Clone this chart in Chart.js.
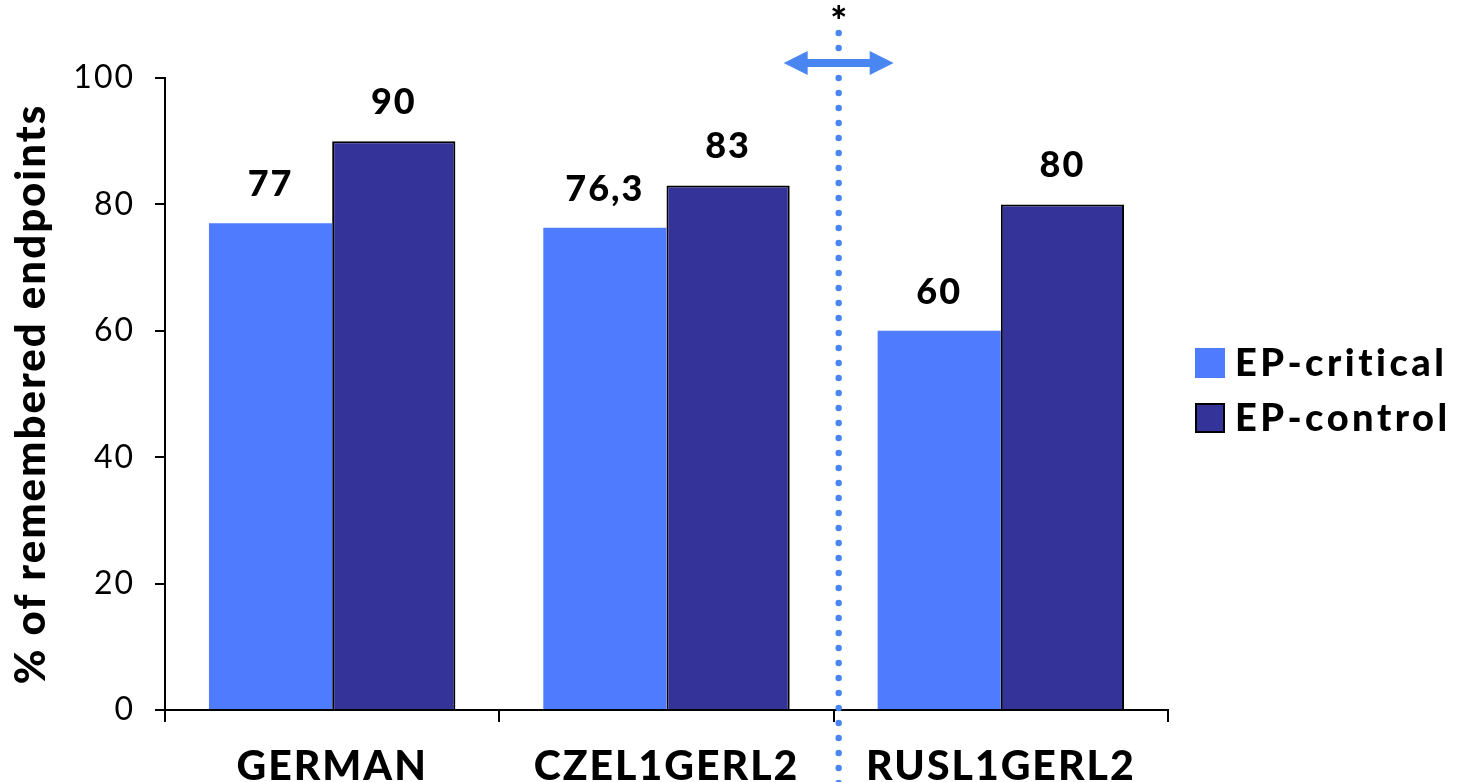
<!DOCTYPE html>
<html>
<head>
<meta charset="utf-8">
<script src="https://cdn.jsdelivr.net/npm/chart.js@4/dist/chart.umd.min.js"></script>
<style>
  html, body { margin: 0; padding: 0; background: #ffffff; }
  #wrap { width: 1465px; height: 782px; position: relative; }
</style>
</head>
<body>
<div id="wrap"><canvas id="c" width="1465" height="782"></canvas></div>
<script>
// Groups along the x axis
const categories = ['GERMAN', 'CZEL1GERL2', 'RUSL1GERL2'];
// Percentage of remembered endpoints per group
const criticalValues = [77, 76.3, 60];
const controlValues = [90, 83, 80];
const seriesNames = ['EP-critical', 'EP-control'];
const yTickValues = [0, 20, 40, 60, 80, 100];
const yTitle = '% of remembered endpoints';
const markerText = '*';

const FONT = 'Lato, "Open Sans", "DejaVu Sans", sans-serif';
const COL_CRIT = '#4f7bff';
const COL_CTRL = '#333399';
const COL_MARK = '#4a86f2';

// Wider tracking for all canvas text
const tracking = {
  id: 'tracking',
  beforeDraw(chart) { chart.ctx.letterSpacing = '2px'; }
};

// Value labels above each bar (decimal comma)
const valueLabels = {
  id: 'valueLabels',
  afterDatasetsDraw(chart) {
    const ctx = chart.ctx;
    ctx.save();
    ctx.font = '900 36px ' + FONT;
    ctx.letterSpacing = '2px';
    ctx.fillStyle = '#000';
    ctx.textAlign = 'center';
    ctx.textBaseline = 'alphabetic';
    chart.data.datasets.forEach((ds, di) => {
      chart.getDatasetMeta(di).data.forEach((bar, i) => {
        const txt = String(ds.data[i]).replace('.', ',');
        ctx.fillText(txt, bar.x, bar.y - 27);
      });
    });
    ctx.restore();
  }
};

// Dotted divider with double arrow between the second and third groups
const divider = {
  id: 'divider',
  afterDraw(chart) {
    const ctx = chart.ctx;
    const xs = chart.scales.x;
    const x = (xs.getPixelForValue(1) + xs.getPixelForValue(2)) / 2 + 5;
    ctx.save();
    ctx.fillStyle = COL_MARK;
    for (let y = 33; y < chart.height + 6; y += 15) {
      if (y > 52 && y < 74) continue;
      ctx.beginPath();
      ctx.arc(x, y, 3.2, 0, Math.PI * 2);
      ctx.fill();
    }
    const ay = 63, half = 55, head = 24, hh = 12, sh = 4;
    ctx.beginPath();
    ctx.moveTo(x - half, ay);
    ctx.lineTo(x - half + head, ay - hh);
    ctx.lineTo(x - half + head, ay - sh);
    ctx.lineTo(x + half - head, ay - sh);
    ctx.lineTo(x + half - head, ay - hh);
    ctx.lineTo(x + half, ay);
    ctx.lineTo(x + half - head, ay + hh);
    ctx.lineTo(x + half - head, ay + sh);
    ctx.lineTo(x - half + head, ay + sh);
    ctx.lineTo(x - half + head, ay + hh);
    ctx.closePath();
    ctx.fill();
    ctx.fillStyle = '#000';
    ctx.letterSpacing = '0px';
    ctx.font = '900 40px ' + FONT;
    ctx.textAlign = 'center';
    ctx.textBaseline = 'alphabetic';
    ctx.fillText(markerText, x, 36);
    ctx.restore();
  }
};

// Legend on the right
const sideLegend = {
  id: 'sideLegend',
  afterDraw(chart) {
    const ctx = chart.ctx;
    ctx.save();
    ctx.font = '900 38px ' + FONT;
    ctx.letterSpacing = '3.5px';
    ctx.textBaseline = 'middle';
    ctx.textAlign = 'left';
    const rows = [363, 418];
    chart.data.datasets.forEach((ds, i) => {
      const cy = rows[i];
      ctx.fillStyle = ds.backgroundColor;
      ctx.fillRect(1195, cy - 15, 30, 30);
      if (ds.borderWidth) {
        ctx.strokeStyle = '#000';
        ctx.lineWidth = 2;
        ctx.strokeRect(1196, cy - 14, 28, 28);
      }
      ctx.fillStyle = '#000';
      ctx.fillText(ds.label, 1235, cy + 1);
    });
    ctx.restore();
  }
};

new Chart(document.getElementById('c'), {
  type: 'bar',
  data: {
    labels: categories,
    datasets: [
      { label: seriesNames[0], data: criticalValues, backgroundColor: COL_CRIT, borderWidth: 0 },
      { label: seriesNames[1], data: controlValues, backgroundColor: COL_CTRL, borderColor: '#000', borderWidth: 2 }
    ]
  },
  options: {
    responsive: false,
    animation: false,
    devicePixelRatio: 1,
    layout: { padding: { top: 78, right: 297, bottom: 0, left: 0 } },
    datasets: { bar: { categoryPercentage: 0.737, barPercentage: 1.0 } },
    plugins: { legend: { display: false }, tooltip: { enabled: false } },
    scales: {
      x: {
        grid: { offset: true, drawOnChartArea: false, drawTicks: true, tickLength: 12, color: '#000', lineWidth: 2 },
        border: { color: '#000', width: 2 },
        ticks: { color: '#000', font: { family: FONT, size: 41, weight: '900' }, padding: 20, maxRotation: 0, autoSkip: false },
        afterFit(scale) { scale.height = 782 - 710; }
      },
      y: {
        min: 0, max: 100,
        afterBuildTicks(scale) { scale.ticks = yTickValues.map(v => ({ value: v })); },
        grid: { drawOnChartArea: false, drawTicks: true, tickLength: 10, color: '#000', lineWidth: 2 },
        border: { color: '#000', width: 2 },
        ticks: { color: '#000', font: { family: FONT, size: 32 }, padding: 20 },
        title: { display: true, text: yTitle, color: '#000', font: { family: FONT, size: 42, weight: '900' }, padding: { top: 6, bottom: 0 } },
        afterFit(scale) { scale.width = 165; }
      }
    }
  },
  plugins: [tracking, valueLabels, divider, sideLegend]
});
</script>
</body>
</html>
